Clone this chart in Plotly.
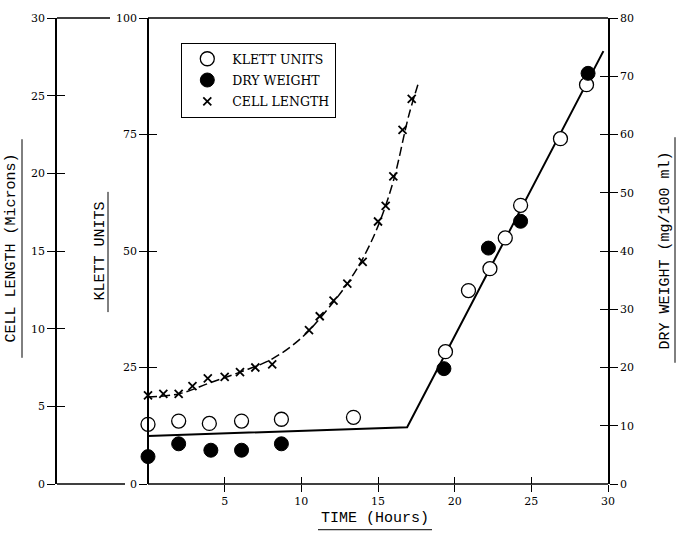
import plotly.graph_objects as go

# ---------------- data ----------------
KLETT_T = [0, 2.0, 4.0, 6.1, 8.7, 13.4, 19.4, 20.9, 22.3, 23.3, 24.3, 26.9, 28.6]
KLETT_V = [12.8, 13.5, 13.0, 13.5, 13.9, 14.3, 28.4, 41.5, 46.2, 52.8, 59.8, 74.1, 85.7]

DRY_T = [0, 2.0, 4.1, 6.1, 8.7, 19.3, 22.2, 24.3, 28.7]
DRY_V = [4.7, 6.9, 5.8, 5.8, 6.9, 19.8, 40.5, 45.1, 70.5]

CELL_T = [0, 1.0, 2.0, 2.9, 3.9, 5.0, 6.0, 7.0, 8.1, 10.5, 11.2, 12.1, 13.0, 14.0, 15.0, 15.5, 16.0, 16.6, 17.2]
CELL_V = [5.7, 5.8, 5.8, 6.3, 6.8, 6.9, 7.2, 7.5, 7.7, 9.9, 10.8, 11.8, 12.9, 14.3, 16.9, 17.9, 19.8, 22.8, 24.8]

KLETT_FIT_T = [0, 16.9, 29.7]
KLETT_FIT_V = [10.3, 12.2, 92.9]

CELL_FIT_T = [0, 2, 4, 6, 8, 10, 12, 13, 14, 15, 16, 17, 17.6]
CELL_FIT_V = [5.6, 5.8, 6.5, 7.2, 8.0, 9.4, 11.6, 12.9, 14.5, 16.6, 19.5, 23.7, 25.7]

X_TICKS = [5, 10, 15, 20, 25, 30]
CELL_TICKS = [0, 5, 10, 15, 20, 25, 30]
KLETT_TICKS = [0, 25, 50, 75, 100]
DRY_TICKS = [0, 10, 20, 30, 40, 50, 60, 70, 80]

# ---------------- layout geometry ----------------
W, H = 676, 547
ML, MR, MT, MB = 57, 68, 15, 63
PW = W - ML - MR
PH = H - MT - MB
X_MIN = -5.935
X_MAX = 30
KLETT_POS = (148 - ML) / PW


def px(x):
    return (x - ML) / PW


def py(y):
    return (H - MB - y) / PH


def tx(xpix):
    return X_MIN + (xpix - ML) / PW * (X_MAX - X_MIN)


TICKFONT = dict(family="DejaVu Serif", size=11, color="black")
TITLEFONT = dict(family="Liberation Mono", size=15, color="black")

fig = go.Figure()

# fitted lines
fig.add_trace(go.Scatter(x=KLETT_FIT_T, y=KLETT_FIT_V, mode="lines", yaxis="y2",
                         line=dict(color="black", width=2), showlegend=False, hoverinfo="skip"))
fig.add_trace(go.Scatter(x=CELL_FIT_T, y=CELL_FIT_V, mode="lines", yaxis="y",
                         line=dict(color="black", width=1.5, dash="9px,4px", shape="spline"),
                         showlegend=False, hoverinfo="skip"))

# data markers
fig.add_trace(go.Scatter(x=KLETT_T, y=KLETT_V, mode="markers", yaxis="y2", name="KLETT UNITS",
                         legendgroup="a",
                         marker=dict(symbol="circle", size=14, color="white",
                                     line=dict(color="black", width=1.3))))
fig.add_trace(go.Scatter(x=DRY_T, y=DRY_V, mode="markers", yaxis="y3", name="DRY WEIGHT",
                         legendgroup="b",
                         marker=dict(symbol="circle", size=14, color="black",
                                     line=dict(color="black", width=1))))
fig.add_trace(go.Scatter(x=CELL_T, y=CELL_V, mode="markers", yaxis="y", name="CELL LENGTH",
                         legendgroup="c",
                         marker=dict(symbol="x-thin", size=8, color="black",
                                     line=dict(color="black", width=1.8))))

# empty traces to carry the "inside" halves of the crossing ticks
for xa, ya in [("x2", "y"), ("x", "y4"), ("x", "y5"), ("x", "y6")]:
    fig.add_trace(go.Scatter(x=[], y=[], xaxis=xa, yaxis=ya, showlegend=False, hoverinfo="skip"))

common = dict(showgrid=False, zeroline=False, tickfont=TICKFONT, linecolor="black",
              tickcolor="black", tickwidth=1.3, linewidth=1.5)

fig.update_layout(
    width=W, height=H,
    margin=dict(l=ML, r=MR, t=MT, b=MB),
    paper_bgcolor="white", plot_bgcolor="white",
    xaxis=dict(range=[X_MIN, X_MAX], tickvals=X_TICKS, ticks="outside", ticklen=7,
               showline=False, anchor="y", **common),
    xaxis2=dict(range=[X_MIN, X_MAX], tickvals=X_TICKS, ticks="inside", ticklen=7,
                showline=False, showticklabels=False, overlaying="x", anchor="y", **common),
    yaxis=dict(range=[0, 30], tickvals=CELL_TICKS, ticks="outside", ticklen=8,
               showline=True, side="left", anchor="x", **common),
    yaxis2=dict(range=[0, 100], tickvals=KLETT_TICKS, ticks="outside", ticklen=8,
                showline=True, side="left", overlaying="y", anchor="free",
                position=KLETT_POS, **common),
    yaxis3=dict(range=[0, 80], tickvals=DRY_TICKS, ticks="outside", ticklen=8,
                showline=True, side="right", overlaying="y", anchor="x", **common),
    yaxis4=dict(range=[0, 30], tickvals=CELL_TICKS, ticks="inside", ticklen=8,
                showline=False, showticklabels=False, side="left", overlaying="y", anchor="x", **common),
    yaxis5=dict(range=[0, 100], tickvals=KLETT_TICKS, ticks="inside", ticklen=8,
                showline=False, showticklabels=False, side="left", overlaying="y",
                anchor="free", position=KLETT_POS, **common),
    yaxis6=dict(range=[0, 80], tickvals=DRY_TICKS, ticks="inside", ticklen=8,
                showline=False, showticklabels=False, side="right", overlaying="y", anchor="x", **common),
    legend=dict(x=px(181), y=py(40), xanchor="left", yanchor="top",
                bordercolor="black", borderwidth=1.3, bgcolor="white",
                font=dict(family="DejaVu Serif", size=12.5, color="black"),
                tracegroupgap=2, traceorder="grouped", itemwidth=40),
    showlegend=True,
)

# frame lines (top and bottom, with gaps for the Klett 0/100 labels)
for x0, x1, yy in [(X_MIN, tx(110), 1), (0, X_MAX, 1), (X_MIN, tx(125), 0), (0, X_MAX, 0)]:
    fig.add_shape(type="line", xref="x", yref="paper", x0=x0, x1=x1, y0=yy, y1=yy,
                  line=dict(color="black", width=1.5))

# axis titles
titles = [
    ("CELL LENGTH (Microns)", 12, 247, -90),
    ("KLETT UNITS", 100, 250, -90),
    ("DRY WEIGHT (mg/100 ml)", 666, 249, -90),
    ("TIME (Hours)", 375, 519, 0),
]
for text, xx, yy, ang in titles:
    fig.add_annotation(text=text, xref="paper", yref="paper", x=px(xx), y=py(yy),
                       xanchor="center", yanchor="middle", textangle=ang, showarrow=False,
                       font=TITLEFONT)

# title underlines
underlines = [
    (22, 137, 22, 357),
    (108, 190, 108, 311),
    (675, 135, 675, 362),
    (318, 530, 432, 530),
]
for x0, y0, x1, y1 in underlines:
    fig.add_shape(type="line", xref="paper", yref="paper", x0=px(x0), y0=py(y0),
                  x1=px(x1), y1=py(y1), line=dict(color="black", width=1))

fig.write_html("out.html")
